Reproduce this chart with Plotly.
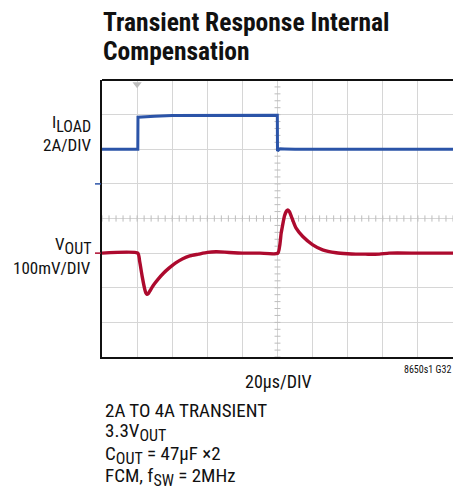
import plotly.graph_objects as go

# ---- data (time in µs, current in A, voltage deviation in mV) ----
i_time = [0, 20.4, 20.5, 24, 30, 40, 60, 80, 99.9, 100.0, 101.5, 104, 110, 140, 170, 200]
i_load = [2.0, 2.0, 3.85, 3.86, 3.9, 3.95, 3.97, 3.97, 3.97, 1.9, 2.03, 2.02, 2.0, 2.0, 2.0, 2.0]

v_time = [0, 20.4, 21.5, 23, 24.3, 25.0, 25.6, 26.3, 27.2, 28.5, 30, 32, 35, 38, 42, 46, 50, 55, 60, 65, 70, 75, 80, 90,
          100.2, 102.1, 104, 105.2, 105.9, 106.8, 108.2, 110.6, 114.4, 120.1, 125.7, 133.4, 140, 144.7, 150, 158, 163.6, 180, 200]
v_out = [0, 0, -25, -70, -103, -115, -119, -117, -110, -99, -88, -75, -58, -44, -28, -16, -8, -3, 2, 4, 3, 1, 0, 0,
         0, 58, 108, 122, 125, 120, 102, 72, 48, 24, 9.5, 1, -2, -3, -3, -3, 0, 0, 0]

x_range = [0, 200]      # 20 µs/DIV, 10 divisions
i_range = [-10, 6]      # 2 A/DIV, 8 divisions
v_range = [-300, 500]   # 100 mV/DIV, 8 divisions

title_lines = ["Transient Response Internal", "Compensation"]
SUB = '<sub><span style="font-size:16px">{}</span></sub>'
notes = ["2A TO 4A TRANSIENT", "3.3V" + SUB.format("OUT"), "C" + SUB.format("OUT") + " = 47µF ×2",
         "FCM, f" + SUB.format("SW") + " = 2MHz"]

W, H = 453, 487
L, T, R, B = 102, 80, 453, 357
def px(x):
    return (x - L) / (R - L)
def py(y):
    return (B - y) / (B - T)

FONT = "Liberation Sans Narrow, Roboto Condensed, Arial Narrow, Liberation Sans, sans-serif"
BLUE = "#2b54a8"
RED = "#ad0a2e"
GRID = "#d6d6d6"
TICK = "#bdbdbd"

fig = go.Figure()

# center crosshair minor ticks
xdiv = (x_range[1] - x_range[0]) / 10
ydiv = (i_range[1] - i_range[0]) / 8
xc = (x_range[0] + x_range[1]) / 2
yc = (i_range[0] + i_range[1]) / 2
hx = 1.7   # half tick length in x units
hy = 0.09 * ydiv
tx, ty = [], []
for k in range(0, 51):
    xv = x_range[0] + k * xdiv / 5
    tx += [xv, xv, None]
    ty += [yc - hy, yc + hy, None]
for k in range(0, 41):
    yv = i_range[0] + k * ydiv / 5
    tx += [xc - hx, xc + hx, None]
    ty += [yv, yv, None]
fig.add_trace(go.Scatter(x=tx, y=ty, mode="lines", line=dict(color=TICK, width=1),
                         hoverinfo="skip", showlegend=False))

# trigger marker
fig.add_trace(go.Scatter(x=[20], y=[i_range[1] - 0.12 * ydiv], mode="markers",
                         marker=dict(symbol="triangle-down", size=8, color=TICK),
                         cliponaxis=False, showlegend=False, hoverinfo="skip"))

fig.add_trace(go.Scatter(x=i_time, y=i_load, mode="lines", line=dict(color=BLUE, width=3),
                         showlegend=False, yaxis="y"))
fig.add_trace(go.Scatter(x=v_time, y=v_out, mode="lines", line=dict(color=RED, width=3.4, shape="spline", smoothing=0.5),
                         showlegend=False, yaxis="y2"))

fig.update_layout(
    width=W, height=H,
    margin=dict(l=L, r=W - R, t=T, b=H - B, pad=0),
    paper_bgcolor="white", plot_bgcolor="white",
    xaxis=dict(range=x_range, dtick=xdiv, showgrid=True, gridcolor=GRID, gridwidth=1,
               zeroline=False, showticklabels=False, ticks="", showline=True,
               linecolor="#111111", linewidth=2),
    yaxis=dict(range=i_range, dtick=ydiv, showgrid=True, gridcolor=GRID, gridwidth=1,
               zeroline=False, showticklabels=False, ticks="", showline=True,
               linecolor="#111111", linewidth=2),
    yaxis2=dict(range=v_range, overlaying="y", showgrid=False, zeroline=False,
                showticklabels=False, ticks="", showline=False),
    font=dict(family=FONT, color="#111111"),
)

# top border
fig.add_shape(type="line", xref="paper", yref="paper", x0=0, x1=1, y0=1, y1=1,
              line=dict(color="#111111", width=2))
# channel ground markers on left
fig.add_shape(type="line", xref="paper", yref="y", x0=px(95), x1=px(101), y0=0, y1=0,
              line=dict(color=BLUE, width=1.5))
fig.add_shape(type="line", xref="paper", yref="y2", x0=px(95), x1=px(101), y0=0, y1=0,
              line=dict(color=RED, width=1.5))

def ann(text, x, y, size, xanchor="left", bold=False, yanchor="middle"):
    fig.add_annotation(text=f"<b>{text}</b>" if bold else text, xref="paper", yref="paper",
                       x=px(x), y=py(y), xanchor=xanchor, yanchor=yanchor, showarrow=False,
                       font=dict(size=size, family=FONT, color="#111111"), align=xanchor)

ann(title_lines[0], 101, 22, 25.5, bold=True)
ann(title_lines[1], 101, 51, 25.5, bold=True)

ann("I" + SUB.format("LOAD"), 93, 124, 17, xanchor="right")
ann("2A/DIV", 93, 145, 17, xanchor="right")
ann("V" + SUB.format("OUT"), 93, 246, 17, xanchor="right")
ann("100mV/DIV", 93, 268, 17, xanchor="right")

ann("20µs/DIV", 278, 381, 18, xanchor="center")
ann("8650s1 G32", 453, 369, 10, xanchor="right")

for k, line in enumerate(notes):
    ann(line, 103, 410 + k * 22.3, 19)

fig.write_html("out.html", config={"displayModeBar": False},
               post_script="document.body.style.margin='0';document.body.style.padding='0';")
